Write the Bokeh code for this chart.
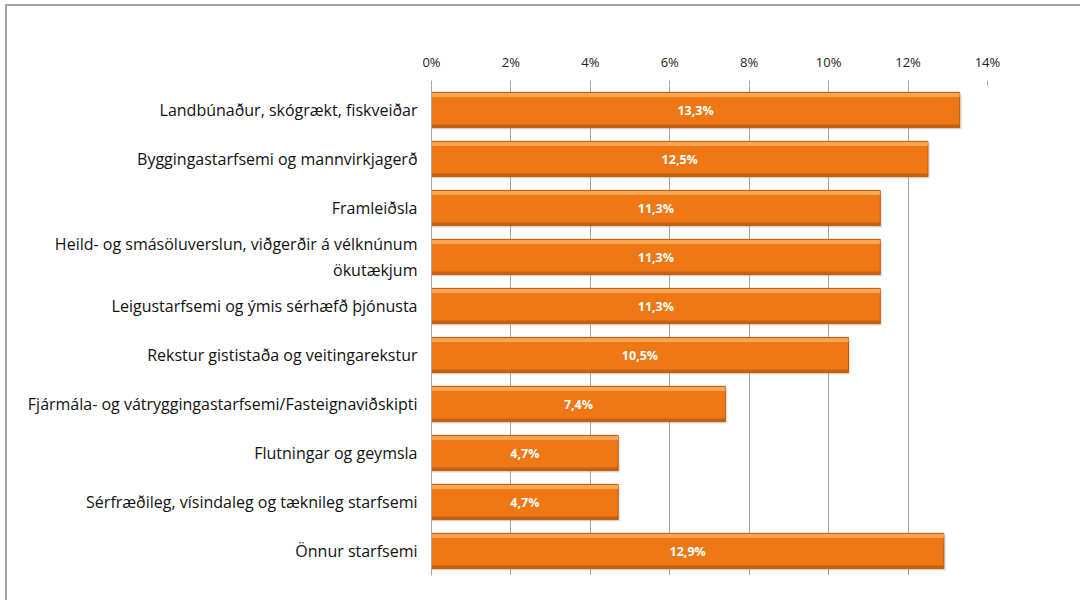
from bokeh.plotting import figure
from bokeh.models import (ColumnDataSource, FactorRange, Range1d, FixedTicker,
                          CustomJSTickFormatter)
from bokeh.transform import dodge
from bokeh.core.properties import value
from bokeh.embed import file_html
from bokeh.resources import INLINE

categories = [
    "Landbúnaður, skógrækt, fiskveiðar",
    "Byggingastarfsemi og mannvirkjagerð",
    "Framleiðsla",
    "Heild- og smásöluverslun, viðgerðir á vélknúnum ökutækjum",
    "Leigustarfsemi og ýmis sérhæfð þjónusta",
    "Rekstur gististaða og veitingarekstur",
    "Fjármála- og vátryggingastarfsemi/Fasteignaviðskipti",
    "Flutningar og geymsla",
    "Sérfræðileg, vísindaleg og tæknileg starfsemi",
    "Önnur starfsemi",
]
wrapped_keys = ["Heild- og smásöluverslun, viðgerðir á vélknúnum ökutækjum"]
wrapped_vals = ["Heild- og smásöluverslun, viðgerðir á vélknúnum\nökutækjum"]
values = [13.3, 12.5, 11.3, 11.3, 11.3, 10.5, 7.4, 4.7, 4.7, 12.9]
value_labels = ["13,3%", "12,5%", "11,3%", "11,3%", "11,3%", "10,5%", "7,4%", "4,7%", "4,7%", "12,9%"]
tick_values = [0, 2, 4, 6, 8, 10, 12, 14]
tick_labels = ["0%", "2%", "4%", "6%", "8%", "10%", "12%", "14%"]

src = ColumnDataSource(dict(
    cat=categories,
    val=values,
    mid=[v / 2 for v in values],
    lbl=value_labels,
))

FONT = "Open Sans"
GRID = "#a6a6a6"

p = figure(
    width=1075, height=596,
    y_range=FactorRange(*reversed(categories)),
    x_range=Range1d(0, 14),
    x_axis_location="above",
    output_backend="svg", toolbar_location=None,
    min_border_left=424, min_border_right=95,
    min_border_top=79, min_border_bottom=27,
)
p.styles = {
    "border-top": "2px solid #a6a6a6",
    "border-left": "2px solid #a6a6a6",
    "margin-left": "5px",
    "margin-top": "4px",
}
p.outline_line_color = None
p.background_fill_color = "white"
p.border_fill_color = "white"

# x axis (top)
p.xaxis.ticker = FixedTicker(ticks=tick_values)
p.xaxis.major_label_overrides = {t: l for t, l in zip(tick_values, tick_labels)}
p.xaxis.axis_line_color = None
p.xaxis.major_tick_line_color = GRID
p.xaxis.major_tick_out = 5
p.xaxis.major_tick_in = 0
p.xaxis.minor_tick_line_color = None
p.xaxis.major_label_text_font = FONT
p.xaxis.major_label_text_font_size = "13px"
p.xaxis.major_label_text_color = "#222222"
p.xaxis.major_label_standoff = 10

p.xgrid.ticker = FixedTicker(ticks=tick_values)
p.xgrid.grid_line_color = GRID
p.ygrid.grid_line_color = None

# category axis
p.yaxis.axis_line_color = GRID
p.yaxis.major_tick_line_color = None
p.yaxis.minor_tick_line_color = None
p.yaxis.major_tick_out = 0
p.yaxis.major_tick_in = 0
p.yaxis.major_label_text_font = FONT
p.yaxis.major_label_text_font_size = "16px"
p.yaxis.major_label_text_color = "#111111"
p.yaxis.major_label_standoff = 14
p.yaxis.formatter = CustomJSTickFormatter(
    args=dict(keys=wrapped_keys, vals=wrapped_vals),
    code="const i = keys.indexOf(tick); return i >= 0 ? vals[i] : tick;")

H = 0.72
# shadow
p.hbar(y=dodge("cat", -0.04, range=p.y_range), left=0, right=dodge("val", 0.05), height=H,
       source=src, fill_color="#9a9a9a", fill_alpha=0.3, line_color=None)
# main bar
p.hbar(y="cat", left=0, right="val", height=H, source=src,
       fill_color="#F07814", line_color="#B85A0E", line_width=1)
# top highlight
p.hbar(y=dodge("cat", 0.305, range=p.y_range), left=0, right="val", height=0.08, source=src,
       fill_color="#F9A551", line_color=None)
# bottom shade
p.hbar(y=dodge("cat", -0.325, range=p.y_range), left=0, right="val", height=0.06, source=src,
       fill_color="#C4600F", line_color=None)

p.text(x="mid", y="cat", text="lbl", source=src, text_color="white",
       text_font=value(FONT), text_font_style="bold", text_font_size="12.5px",
       text_align="center", text_baseline="middle")

open("out.html", "w").write(file_html(p, INLINE))
